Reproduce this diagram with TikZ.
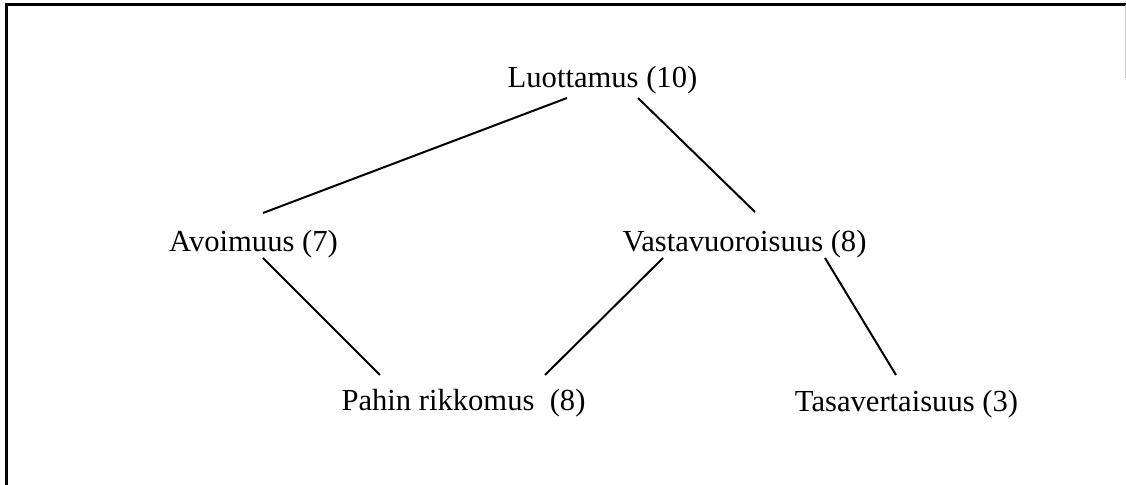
\documentclass[tikz,border=0pt]{standalone}
\usepackage{fontspec}
\setmainfont{Liberation Serif}
\usepackage{tikz}
\usetikzlibrary{calc}
\tikzset{
  kasite/.style = {align=center, inner sep=0pt, text centered,
    font=\fontsize{15.3}{18}\selectfont},% kasite ja arvo
  yhteys/.style = {draw=black, line width=1pt},% kasitteiden valinen viiva
  kehys/.style = {draw=black, line width=1.5pt}% kuvan reunus
}

\begin{document}
\begin{tikzpicture}[x=0.5pt,y=-0.5pt]
\useasboundingbox (0,0) rectangle (1126,485);
\draw [kehys] (6,485) -- (6,5) -- (1126,5);
\draw [gray!40, line width=0.5pt] (1125,5) -- (1125,78);

\node [kasite] (luottamus) at (602.5,80) {Luottamus (10)};
\node [kasite] (avoimuus) at (253.5,244) {Avoimuus (7)};
\node [kasite] (vastavuoroisuus) at (744.5,244) {Vastavuoroisuus (8)};
\node [kasite] (rikkomus) at (463.5,403) {Pahin rikkomus \ (8)};
\node [kasite] (tasavertaisuus) at (906.5,404) {Tasavertaisuus (3)};

\draw [yhteys] ($(luottamus)+(-35.5,18)$) -- ($(avoimuus)+(9.5,-31)$);
\draw [yhteys] ($(luottamus)+(35.5,18)$) -- ($(vastavuoroisuus)+(10.5,-32)$);
\draw [yhteys] ($(avoimuus)+(9.5,14)$) -- ($(rikkomus)+(-83.5,-28)$);
\draw [yhteys] ($(vastavuoroisuus)+(-81.5,14)$) -- ($(rikkomus)+(81.5,-28)$);
\draw [yhteys] ($(vastavuoroisuus)+(80.5,14)$) -- ($(tasavertaisuus)+(-10.5,-29)$);
\end{tikzpicture}
\end{document}
